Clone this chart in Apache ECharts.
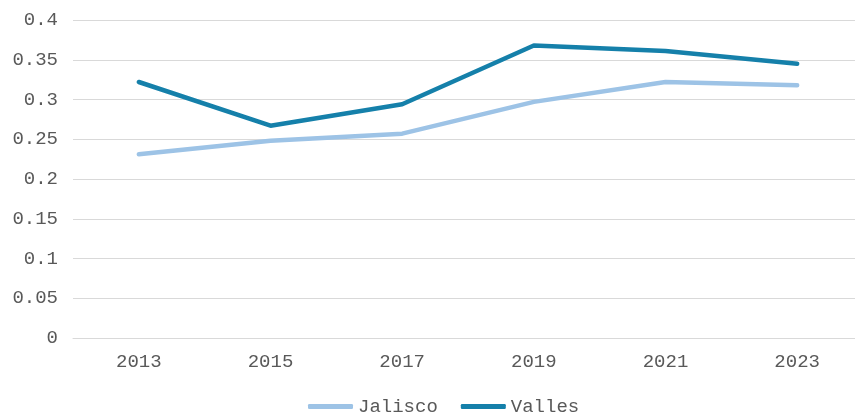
<!DOCTYPE html>
<html>
<head>
<meta charset="utf-8">
<script src="https://cdn.jsdelivr.net/npm/echarts@6/dist/echarts.min.js"></script>
<style>
  html, body { margin: 0; padding: 0; background: #fff; overflow: hidden; }
  #chart { width: 863px; height: 413px; }
</style>
</head>
<body>
<div id="chart"></div>
<script>
const years = ['2013', '2015', '2017', '2019', '2021', '2023']
const jalisco = [0.231, 0.248, 0.257, 0.297, 0.322, 0.318]
const valles = [0.322, 0.267, 0.294, 0.368, 0.361, 0.345]

const font = 'Liberation Mono'
const chart = echarts.init(document.getElementById('chart'))
chart.setOption({
  animation: false,
  color: ['#9dc3e6', '#1580aa'],
  grid: { left: 73, right: 0, top: 20, bottom: 75 },
  legend: {
    top: 397,
    left: 308,
    padding: 0,
    itemWidth: 45,
    itemHeight: 5,
    itemGap: 23,
    icon: 'roundRect',
    textStyle: { fontFamily: font, fontSize: 19, color: '#595959' },
    data: ['Jalisco', 'Valles']
  },
  xAxis: {
    type: 'category',
    data: years,
    axisLine: { lineStyle: { color: '#d9d9d9' } },
    axisTick: { show: false },
    axisLabel: { fontFamily: font, fontSize: 19, color: '#595959', margin: 14 }
  },
  yAxis: {
    type: 'value',
    min: 0,
    max: 0.4,
    interval: 0.05,
    axisLabel: { fontFamily: font, fontSize: 19, color: '#595959', margin: 15 },
    splitLine: { lineStyle: { color: '#d9d9d9' } }
  },
  series: [
    {
      name: 'Jalisco',
      type: 'line',
      data: jalisco,
      symbol: 'none',
      lineStyle: { width: 4.5, cap: 'round' }
    },
    {
      name: 'Valles',
      type: 'line',
      data: valles,
      symbol: 'none',
      lineStyle: { width: 4.5, cap: 'round' }
    }
  ]
})
</script>
</body>
</html>
